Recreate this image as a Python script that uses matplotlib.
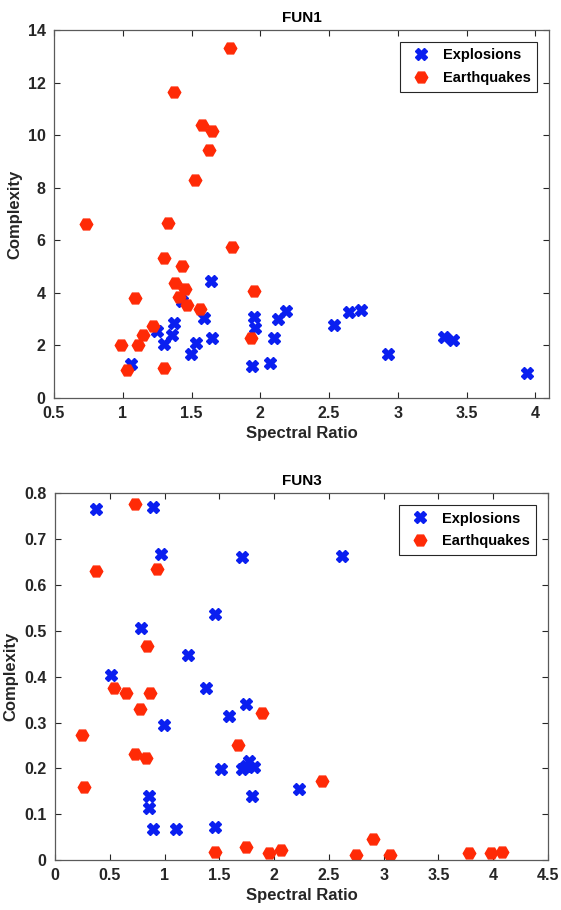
import numpy as np
import matplotlib.pyplot as plt

plt.rcParams['font.family'] = ['Liberation Sans', 'DejaVu Sans']
plt.rcParams['font.weight'] = 'bold'

# FUN1 - explosions
exp1_x = [1.643, 1.429, 1.59, 1.956, 2.186, 2.13, 1.96, 1.373, 1.252, 1.361,
          1.303, 1.533, 1.65, 2.101, 1.497, 1.06, 1.939, 2.074, 2.538, 2.645,
          2.734, 2.926, 3.338, 3.402, 3.937]
exp1_y = [4.44, 3.69, 3.03, 3.07, 3.30, 3.0, 2.65, 2.84, 2.56, 2.40,
          2.04, 2.08, 2.28, 2.27, 1.67, 1.29, 1.20, 1.32, 2.79, 3.27,
          3.36, 1.67, 2.32, 2.19, 0.96]
# FUN1 - earthquakes
eq1_x = [1.783, 1.371, 1.577, 1.65, 1.628, 1.524, 0.731, 1.332, 1.793, 1.30,
         1.429, 1.383, 1.449, 1.956, 1.089, 1.407, 1.466, 1.558, 1.22, 1.148,
         1.109, 0.988, 1.936, 1.029, 1.298]
eq1_y = [13.32, 11.64, 10.37, 10.16, 9.43, 8.29, 6.62, 6.66, 5.73, 5.34,
         5.01, 4.36, 4.13, 4.08, 3.80, 3.84, 3.55, 3.39, 2.75, 2.40,
         2.03, 2.03, 2.28, 1.07, 1.13]

# FUN3 - explosions
exp3_x = [0.374, 0.897, 0.964, 1.706, 2.616, 1.457, 0.782, 1.213, 0.511, 1.381,
          0.995, 1.59, 1.74, 1.515, 1.709, 1.74, 1.77, 1.816, 1.80, 0.858,
          0.858, 0.891, 1.104, 1.457, 2.229]
exp3_y = [0.766, 0.771, 0.668, 0.662, 0.664, 0.537, 0.506, 0.447, 0.404, 0.376,
          0.295, 0.314, 0.340, 0.199, 0.199, 0.205, 0.215, 0.204, 0.14, 0.14,
          0.114, 0.068, 0.068, 0.071, 0.154]
# FUN3 - earthquakes
eq3_x = [0.727, 0.374, 0.931, 0.842, 0.538, 0.648, 0.867, 0.773, 1.886, 0.246,
         1.67, 0.727, 0.830, 0.262, 1.46, 1.74, 1.955, 2.059, 2.433, 2.901,
         2.746, 3.057, 3.78, 3.978, 4.076]
eq3_y = [0.777, 0.63, 0.635, 0.467, 0.375, 0.364, 0.364, 0.330, 0.320, 0.273,
         0.252, 0.231, 0.223, 0.159, 0.017, 0.029, 0.016, 0.022, 0.173, 0.046,
         0.012, 0.011, 0.015, 0.016, 0.018]

blue = '#0a1ff0'
red = '#ff2a06'

fig = plt.figure(figsize=(5.61, 9.10), dpi=100)
ax1 = fig.add_axes([0.0963, 0.5626, 0.8824, 0.4044])
ax2 = fig.add_axes([0.098, 0.0549, 0.8788, 0.403])


def draw(ax, ex, ey, qx, qy, title, xlim, xticks, ylim, yticks, ytl):
    ax.plot(ex, ey, linestyle='none', marker='X', ms=8, color=blue,
            mec=blue, label='Explosions')
    ax.plot(qx, qy, linestyle='none', marker='H', ms=9, color=red,
            mec=red, label='Earthquakes')
    ax.set_xlim(xlim)
    ax.set_ylim(ylim)
    ax.set_xticks(xticks)
    ax.set_xticklabels([('%g' % t) for t in xticks])
    ax.set_yticks(yticks)
    ax.set_yticklabels(ytl)
    ax.tick_params(direction='in', length=4, width=0.8, top=True, right=True,
                   labelsize=11.5, colors='#262626', pad=6)
    for s in ax.spines.values():
        s.set_color('#5a5a5a')
        s.set_linewidth(0.9)
    ax.set_title(title, fontsize=11, fontweight='bold', pad=6)
    ax.set_xlabel('Spectral Ratio', fontsize=12, fontweight='bold',
                  color='#262626', labelpad=3)
    ax.set_ylabel('Complexity', fontsize=12, fontweight='bold',
                  color='#262626', labelpad=4)
    leg = ax.legend(loc='upper right', fontsize=10.5, fancybox=False,
                    framealpha=1, edgecolor='#262626', borderaxespad=0.8,
                    handletextpad=0.5, borderpad=0.45, labelspacing=0.6)
    leg.get_frame().set_linewidth(0.8)
    for t in leg.get_texts():
        t.set_fontweight('bold')


draw(ax1, exp1_x, exp1_y, eq1_x, eq1_y, 'FUN1',
     (0.5, 4.1), [0.5, 1, 1.5, 2, 2.5, 3, 3.5, 4],
     (0, 14), [0, 2, 4, 6, 8, 10, 12, 14],
     ['0', '2', '4', '6', '8', '10', '12', '14'])

draw(ax2, exp3_x, exp3_y, eq3_x, eq3_y, 'FUN3',
     (0, 4.5), [0, 0.5, 1, 1.5, 2, 2.5, 3, 3.5, 4, 4.5],
     (0, 0.8), [0, 0.1, 0.2, 0.3, 0.4, 0.5, 0.6, 0.7, 0.8],
     ['0', '0.1', '0.2', '0.3', '0.4', '0.5', '0.6', '0.7', '0.8'])

fig.savefig('out.png', dpi=100)
